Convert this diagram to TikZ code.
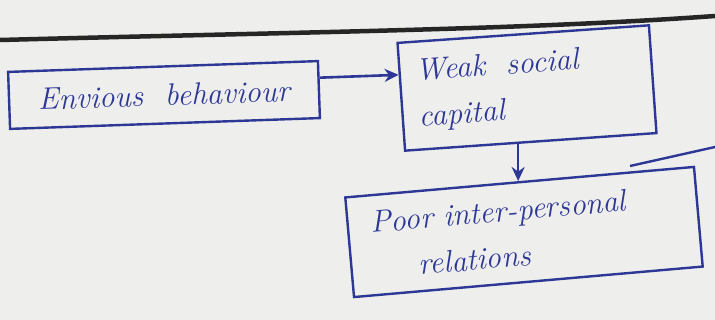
\documentclass[tikz,border=0pt]{standalone}
\usetikzlibrary{calc,arrows.meta}
\definecolor{ink}{RGB}{45,55,150}
\definecolor{paper}{RGB}{238,238,236}
\begin{document}
\begin{tikzpicture}[x=1pt,y=-1pt,
  hbox/.style={draw=ink,line width=2.4pt,text=ink,font=\itshape\fontsize{31}{46}\selectfont,inner sep=2pt},
  link/.style={draw=ink,line width=2.6pt,-{Stealth[length=14pt,width=13pt]}}]
\fill[paper] (0,0) rectangle (715,320);
\useasboundingbox (0,0) rectangle (715,320);
\draw[line width=4.5pt,black!85] (0,40) .. controls (300,32) and (520,30) .. (715,16);
\node[hbox,minimum width=310pt,minimum height=57pt,rotate=2] (b1) at (164,95) {Envious\ \ behaviour};
\node[hbox,minimum width=252pt,minimum height=108pt,rotate=4,align=left,text width=240pt] (b2) at (527,88) {\hspace*{10pt}Weak\ \ social\\\hspace*{10pt}capital};
\node[hbox,minimum width=350pt,minimum height=100pt,rotate=5,align=left,text width=340pt] (b3) at (524,232) {\hspace*{18pt}Poor\ inter-personal\\\hspace*{62pt}relations};
\coordinate (a0) at ($(b1.north east)!0.3!(b1.south east)$);
\coordinate (a1) at ($(b2.north west)!0.3!(b2.south west)$);
\draw[link] (a0) -- (a1);
\coordinate (a2) at ($(b2.south west)!0.45!(b2.south east)$);
\draw[link] (a2) -- (a2 |- b3.north);
\coordinate (e1) at (630,166);
\coordinate (e2) at (715,147);
\draw[ink,line width=2.4pt] (e1) -- (e2);
\end{tikzpicture}
\end{document}
